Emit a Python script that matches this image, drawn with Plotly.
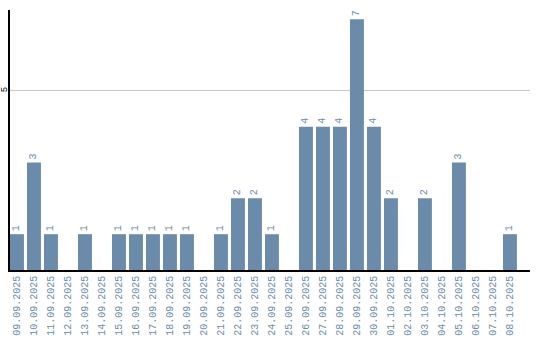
import plotly.graph_objects as go

dates = ["09.09.2025", "10.09.2025", "11.09.2025", "12.09.2025", "13.09.2025",
         "14.09.2025", "15.09.2025", "16.09.2025", "17.09.2025", "18.09.2025",
         "19.09.2025", "20.09.2025", "21.09.2025", "22.09.2025", "23.09.2025",
         "24.09.2025", "25.09.2025", "26.09.2025", "27.09.2025", "28.09.2025",
         "29.09.2025", "30.09.2025", "01.10.2025", "02.10.2025", "03.10.2025",
         "04.10.2025", "05.10.2025", "06.10.2025", "07.10.2025", "08.10.2025"]
counts = [1, 3, 1, 0, 1, 0, 1, 1, 1, 1,
          1, 0, 1, 2, 2, 1, 0, 4, 4, 4,
          7, 4, 2, 0, 2, 0, 3, 0, 0, 1]

bar_color = "#6b8bab"
mono = "Liberation Mono"
ys = [v if v > 0 else None for v in counts]
texts = [str(v) if v > 0 else "" for v in counts]

fig = go.Figure(go.Bar(
    x=dates, y=ys, text=texts, textposition="outside", textangle=-90,
    cliponaxis=False,
    textfont=dict(family=mono, size=10, color=bar_color),
    marker=dict(color=bar_color, line=dict(width=0)),
    hoverinfo="skip",
))

fig.update_layout(
    width=540, height=340,
    margin=dict(l=10, r=10, t=10, b=70, autoexpand=False),
    paper_bgcolor="white", plot_bgcolor="white",
    bargap=0.18, showlegend=False,
    uniformtext=dict(minsize=1),
)
fig.update_xaxes(
    type="category", range=[-0.41, 30.18], automargin=False,
    tickangle=-90, ticks="", showgrid=False,
    tickfont=dict(family=mono, size=10, color=bar_color),
    showline=True, linecolor="black", linewidth=1.5,
)
fig.update_yaxes(
    range=[0, 7.26], tickvals=[5], ticktext=["5"], tickangle=-90,
    automargin=False, ticklabelstandoff=-2,
    tickfont=dict(family=mono, size=9, color="black"),
    showgrid=True, gridcolor="#c8c8c8", gridwidth=1,
    zeroline=False, showline=True, linecolor="black", linewidth=1.5,
    ticks="", ticklen=0,
)

fig.write_html("out.html")
